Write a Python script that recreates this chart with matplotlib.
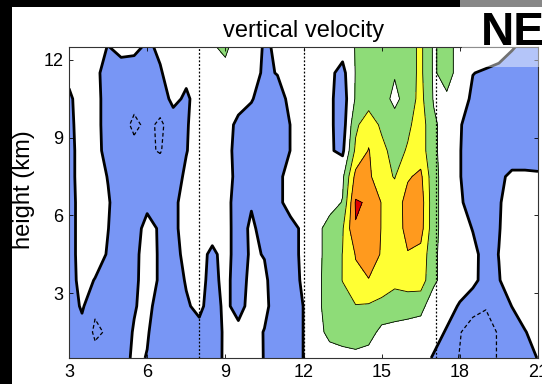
import matplotlib
matplotlib.use("Agg")
import matplotlib.pyplot as plt
from matplotlib.patches import Rectangle
import numpy as np

plt.rcParams['font.family'] = ['Liberation Sans', 'DejaVu Sans']

# time axis and heights of the grid
x_hr = [3.0, 3.5, 4.0, 4.5, 5.0, 5.5, 6.0, 6.5, 7.0, 7.5, 8.0, 8.5, 9.0,
        9.5, 10.0, 10.5, 11.0, 11.5, 12.0, 12.5, 13.0, 13.5, 14.0, 14.5,
        15.0, 15.5, 16.0, 16.5, 17.0, 17.5, 18.0, 18.5, 19.0, 19.5, 20.0,
        20.5, 21.0]
height_km = [0.5, 1.5, 2.5, 3.5, 4.5, 5.5, 6.5, 7.5, 8.5, 9.5, 10.5, 11.5, 12.5]

# vertical velocity estimate, one row per height (bottom to top)
w = [
    [-0.6, -0.7, -0.7, -0.7, -0.6, 0.26, -0.05, -0.6, -0.6, -0.6, -0.6, -0.6, 0.21, 0.5, 0.5, -0.05, -0.6, -0.6, 0.02, 0.5, 0.5, 0.6, 0.7, 0.6, 0.5, 0.5, 0.5, 0.4, -0.1, -0.6, -1.04, -1.4, -1.3, -0.93, -0.6, -0.4, 0.04],
    [-0.6, -0.4, -1.15, -0.9, -0.6, 0.1, 0.1, -0.6, -0.6, -0.4, -0.4, -0.6, 0.2, 0.4, 0.4, -0.05, -0.6, -0.6, 0.02, 0.6, 1.3, 1.5, 1.6, 1.4, 0.73, 0.6, 0.5, 0.5, 0.4, -0.1, -0.95, -1.4, -1.3, -0.93, -0.6, -0.05, 0.4],
    [-0.6, 0.15, -0.85, -0.7, -0.6, -0.1, 0.4, -0.6, -0.6, -0.15, 0.3, -0.6, 0.3, -0.5, 0.5, 0.3, -0.6, -0.6, 0.02, 0.7, 1.5, 1.7, 1.95, 1.9, 1.7, 1.6, 1.5, 1.3, 0.4, 0.4, -0.1, -0.7, -0.95, -0.6, 0.02, 0.5, 0.5],
    [-0.5, 0.4, -0.05, -0.6, -0.6, -0.25, 0.5, -0.15, -0.6, 0.1, 0.3, -0.3, 0.3, -0.5, 0.3, 0.2, -0.6, -0.5, 0.2, 0.7, 1.5, 2.02, 2.8, 2.95, 2.6, 2.2, 2.4, 2.5, 1.2, 0.5, 0.5, 0.3, -0.45, -0.05, 0.5, 0.5, 0.5],
    [-0.5, 0.5, 0.5, -0.1, -0.6, -0.3, 0.5, -0.15, -0.5, 0.4, 0.4, -0.25, 0.4, -0.5, 0.15, -0.05, -0.6, -0.5, 0.3, 0.7, 1.4, 2.02, 3.05, 3.6, 2.9, 2.5, 2.95, 2.7, 1.2, 0.5, 0.5, 0.3, -0.4, 0.02, 0.5, 0.5, 0.5],
    [-0.5, 0.5, 0.5, 0.02, -0.6, -0.5, 0.4, -0.15, -0.3, 0.5, 0.5, 0.5, 0.4, -0.5, 0.2, -0.4, -0.6, -0.5, 0.3, 0.7, 1.4, 1.9, 3.95, 3.8, 2.95, 2.5, 3.3, 3.4, 1.3, 0.5, 0.5, -0.05, -0.6, -0.05, 0.5, 0.5, 0.5],
    [-0.5, 0.5, 0.5, 0.1, -0.6, -0.6, -0.3, -0.6, -0.3, 0.5, 0.5, 0.5, 0.3, -0.4, -0.1, -0.5, -0.4, 0.6, 0.5, 0.5, 0.6, 1.05, 4.1, 3.9, 2.95, 2.5, 3.35, 3.5, 1.3, 0.5, 0.2, -0.6, -0.6, -0.1, 0.5, 0.5, 0.5],
    [-0.4, 0.5, 0.5, -0.05, -0.6, -0.6, -0.6, -0.6, -0.5, 0.2, 0.5, 0.5, 0.4, -0.3, -0.6, -0.6, -0.4, 0.6, 0.5, 0.5, 0.4, 0.8, 3.3, 3.2, 2.3, 1.95, 2.9, 3.2, 1.3, 0.5, 0.05, -0.6, -0.6, -0.2, 0.2, 0.2, 0.15],
    [-0.4, 0.5, 0.4, -0.4, -0.6, -0.7, -0.9, -1.05, -0.6, -0.05, 0.5, 0.5, 0.4, -0.4, -0.6, -0.6, -0.6, 0.02, 0.5, 0.5, 0.1, -0.2, 2.2, 3.05, 2.3, 1.6, 2.1, 2.5, 1.2, 0.5, 0.05, -0.6, -0.6, -0.6, -0.6, -0.6, -0.6],
    [-0.3, 0.5, 0.4, -0.5, -0.6, -1.2, -0.8, -1.15, -0.6, -0.1, 0.5, 0.5, 0.5, -0.3, -0.6, -0.6, -0.6, 0.02, 0.5, 0.5, 0.2, -0.5, 1.8, 2.6, 1.8, 1.5, 1.8, 2.5, 1.2, 0.5, 0.1, -0.6, -0.6, -0.6, -0.6, -0.6, -0.6],
    [-0.2, 0.5, 0.4, -0.5, -0.6, -0.7, -0.6, -0.6, 0.3, -0.2, 0.5, 0.5, 0.5, 0.5, 0.1, -0.6, -0.5, 0.3, 0.5, 0.5, 0.2, -0.5, 1.1, 1.5, 1.5, 0.7, 1.5, 2.3, 0.9, 0.8, 0.5, -0.2, -0.6, -0.6, -0.6, -0.6, -0.6],
    [0.3, 0.5, 0.3, -0.5, -0.6, -0.6, -0.5, -0.1, 0.5, 0.3, 0.5, 0.6, 0.7, 0.5, 0.5, -0.2, 0.05, 0.5, 0.5, 0.5, 0.2, -0.3, 1.05, 1.5, 1.5, 1.1, 1.6, 2.2, 0.85, 1.5, 0.5, 0.02, -0.1, -0.3, -0.6, -0.6, -0.6],
    [0.5, 0.5, 0.5, -0.05, 0.4, 0.3, -0.2, 0.2, 0.5, 0.5, 0.5, 0.9, 1.2, 0.5, 0.5, -0.1, 0.1, 0.5, 0.5, 0.5, 0.5, 0.4, 1.05, 1.5, 1.5, 1.5, 1.6, 2.2, 0.85, 1.5, 0.5, 0.5, 0.5, 0.5, 0.1, -0.3, -0.6],
]

fill_levels = [-5, 0, 1, 2, 3, 4, 6]
fill_colors = ['#7896F5', 'white', '#8EDC78', '#FFFF33', '#FF9A1E', '#E00000']
front_x = [8, 12, 17.1]

fig = plt.figure(figsize=(5.42, 3.84), dpi=100)
ax = fig.add_axes([69/542, 26/384, 469/542, 311/384])

X, Y = np.meshgrid(x_hr, height_km)
W = np.array(w)

ax.contourf(X, Y, W, levels=fill_levels, colors=fill_colors)
ax.contour(X, Y, W, levels=[0], colors='k', linewidths=2.0)
ax.contour(X, Y, W, levels=[1, 2, 3, 4], colors='k', linewidths=0.6)
ax.contour(X, Y, W, levels=[-1], colors='k', linewidths=0.9, linestyles=[(0, (3, 2))])

for xf in front_x:
    ax.axvline(xf, color='k', lw=0.9, ls=(0, (1.5, 1.5)))

ax.set_xlim(3, 21)
ax.set_ylim(0.5, 12.5)
ax.set_xticks([3, 6, 9, 12, 15, 18, 21])
ax.set_yticks([3, 6, 9, 12])
ax.tick_params(direction='in', top=True, right=True, length=3, width=0.6,
               labelsize=13, pad=4)
for s in ax.spines.values():
    s.set_linewidth(0.8)
    s.set_color('#333333')

ax.set_title('vertical velocity', fontsize=17, pad=7)
ax.set_ylabel('height (km)', fontsize=17)
ax.yaxis.set_label_coords(-0.072, 0.54)

# black frame bits and the partly cut panel label
fig.patches.append(Rectangle((0, 0), 12/542, 1, transform=fig.transFigure,
                             facecolor='black', edgecolor='none', zorder=6))
fig.patches.append(Rectangle((0, 1 - 7/384), 460/542, 7/384, transform=fig.transFigure,
                             facecolor='black', edgecolor='none', zorder=6))
fig.patches.append(Rectangle((460/542, 1 - 7/384), 82/542, 7/384, transform=fig.transFigure,
                             facecolor='#888888', edgecolor='none', zorder=6))
fig.patches.append(Rectangle((462/542, 1 - 67/384), 80/542, 20/384, transform=fig.transFigure,
                             facecolor='white', edgecolor='none', alpha=0.45, zorder=5))
fig.text(481/542, 1 - 45/384, 'NE', fontsize=33, fontweight='bold',
         ha='left', va='baseline', zorder=7)

fig.savefig('out.png', dpi=100)
